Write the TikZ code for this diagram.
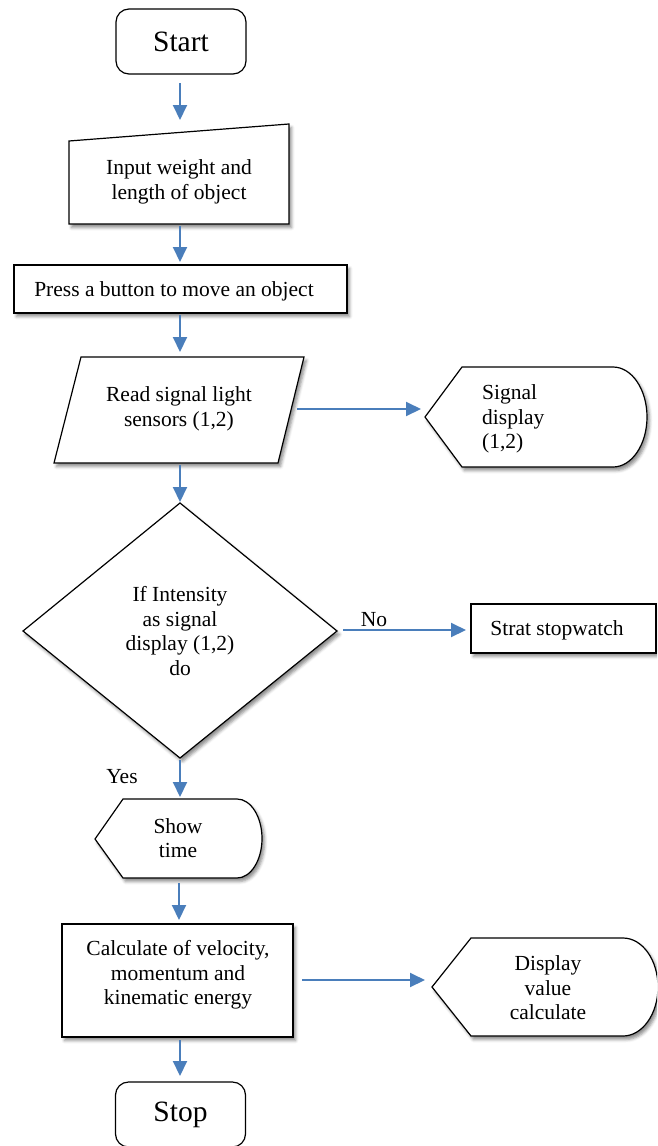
\documentclass[tikz,border=0pt]{standalone}
\usepackage{fontspec}
\setmainfont{Liberation Serif}
\usetikzlibrary{arrows.meta,shadows.blur}
\definecolor{arrowblue}{RGB}{74,126,187}
\tikzset{
  shp/.style={draw=black, line width=1.2pt, fill=white,
    blur shadow={shadow xshift=2.5pt, shadow yshift=-3.5pt, shadow blur radius=3pt, shadow opacity=45}},
  term/.style={draw=black, line width=1.2pt, fill=white, rounded corners=13pt,
    minimum width=130pt, minimum height=65pt, inner sep=0pt, font=\fontsize{29.5}{34}\selectfont},
  txt/.style={font=\fontsize{21.5}{24.5}\selectfont, align=center, inner sep=0pt, yshift=-2pt},
  arr/.style={draw=arrowblue, line width=2pt, -{Triangle[length=15pt,width=14pt]}},
}
\begin{document}
\begin{tikzpicture}[x=1pt,y=-1pt]
\path[use as bounding box, clip] (0,0) rectangle (657,1146);

% Start
\node[term] (start) at (181,41.5) {Start};
\coordinate (startout) at (180,83);

% Manual input
\path[shp] (69,141) -- (289,124) -- (289,224) -- (69,224) -- cycle;
\node[txt] (inp) at (179,180) {Input weight and\\length of object};
\coordinate (inpin) at (180,120);
\coordinate (inpout) at (180,226);

% Press button
\path[shp] (14,265) rectangle (347,313);
\node[txt] (press) at (174,289) {Press a button to move an object};
\coordinate (pressin) at (180,262);
\coordinate (pressout) at (180,315);

% Read signal (parallelogram)
\path[shp] (81,357) -- (304,357) -- (278,463) -- (54,463) -- cycle;
\node[txt] (read) at (179,407) {Read signal light\\sensors (1,2)};
\coordinate (readin) at (180,352);
\coordinate (readright) at (297,409);
\coordinate (readout) at (180,465);

% Signal display
\path[shp] (425,417) -- (462,367) -- (613,367)
  arc[start angle=-90, end angle=90, x radius=34, y radius=50]
  -- (462,467) -- cycle;
\node[txt, align=left, anchor=west] (sig) at (482,417) {Signal\\display\\(1,2)};
\coordinate (sigin) at (421,409);

% Decision
\path[shp] (180,503) -- (337,631) -- (180,758) -- (23,631) -- cycle;
\node[txt] (dec) at (180,629) {If Intensity\\as signal\\display (1,2)\\do};
\coordinate (decin) at (180,502);
\coordinate (decright) at (343,630);
\coordinate (decout) at (180,760);

% Strat stopwatch
\path[shp] (471,604) rectangle (656,653);
\node[txt] (sw) at (557,628) {Strat stopwatch};
\coordinate (swin) at (466,630);

\node[txt] (no) at (374,618) {No};
\node[txt] (yes) at (122,775) {Yes};

% Show time
\path[shp] (95,839) -- (123,799) -- (237,799)
  arc[start angle=-90, end angle=90, x radius=25, y radius=39.5]
  -- (123,878) -- cycle;
\node[txt] (show) at (178,836) {Show\\time};
\coordinate (showin) at (180,797);
\coordinate (showout) at (179,883);

% Calculate
\path[shp] (62,924) rectangle (293,1037);
\node[txt] (calc) at (178,973) {Calculate of velocity,\\momentum and\\kinematic energy};
\coordinate (calcin) at (179,920);
\coordinate (calcright) at (302,980);
\coordinate (calcout) at (180,1040);

% Display value
\path[shp] (432,987) -- (471,938) -- (623,938)
  arc[start angle=-90, end angle=90, x radius=35, y radius=49]
  -- (471,1036) -- cycle;
\node[txt] (disp) at (548,986) {Display\\value\\calculate};
\coordinate (dispin) at (425,980);

% Stop
\node[term] (stop) at (180.5,1114.5) {Stop};
\coordinate (stopin) at (180,1076);

% Connectors
\draw[arr] (startout) -- (inpin);
\draw[arr] (inpout) -- (pressin);
\draw[arr] (pressout) -- (readin);
\draw[arr] (readright) -- (sigin);
\draw[arr] (readout) -- (decin);
\draw[arr] (decright) -- (swin);
\draw[arr] (decout) -- (showin);
\draw[arr] (showout) -- (calcin);
\draw[arr] (calcright) -- (dispin);
\draw[arr] (calcout) -- (stopin);
\end{tikzpicture}
\end{document}
